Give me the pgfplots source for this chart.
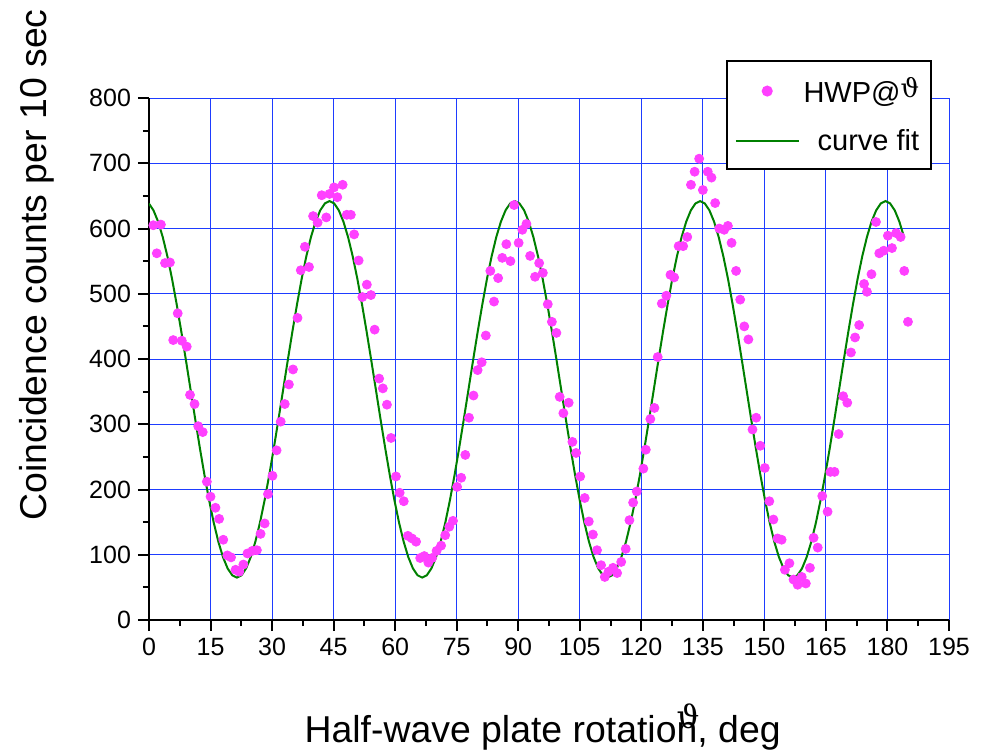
\documentclass[border=0pt]{standalone}
\usepackage{fontspec}
\setmainfont{Liberation Sans}
\newfontfamily\symfont{DejaVu Serif}
\usepackage{pgfplots}
\pgfplotsset{compat=1.18}
\definecolor{ptc}{RGB}{255,64,255}
\definecolor{fitc}{RGB}{0,128,0}
\definecolor{gridc}{RGB}{30,60,255}
\pgfplotsset{
  dotlegend/.style={legend image code/.code={\draw[mark repeat=2,mark phase=2,##1] plot coordinates {(0cm,0cm) (0.55cm,0cm) (1.1cm,0cm)};}},
  linelegend/.style={legend image code/.code={\draw[##1] (0cm,0cm) -- (1.1cm,0cm);}},
}
\begin{document}
\begin{tikzpicture}
\useasboundingbox (-74.5pt,-65pt) rectangle (419.5pt,310pt);
\begin{axis}[
  at={(0,0)}, anchor=south west,
  scale only axis, width=400pt, height=261pt,
  xmin=0, xmax=195, ymin=0, ymax=800,
  xtick={0,15,...,195}, ytick={0,100,...,800},
  minor x tick num=1, minor y tick num=1,
  axis lines*=left,
  axis line style={-, black, line width=1pt},
  tick style={black, line width=1pt},
  major tick length=5.5pt, minor tick length=3pt,
  tick align=outside,
  grid=major,
  major grid style={gridc, line width=0.5pt},
  /pgf/number format/assume math mode=true,
  ticklabel style={font=\fontsize{12.5}{15}\selectfont},
  every axis x label/.style={at={(axis description cs:0.492,-0.2356)}, anchor=base},
  every axis y label/.style={at={(axis description cs:-0.1275,0.680)}, anchor=base, rotate=90},
  label style={font=\fontsize{18.7}{22}\selectfont},
  xlabel={Half-wave plate rotatio\rlap{\raisebox{7pt}{\fontsize{16}{16}\symfont ϑ}}n, deg},
  ylabel={Coincidence counts per 10 sec},
  legend style={font=\fontsize{14.5}{17}\selectfont, at={(axis description cs:0.979,1.0728)}, anchor=north east,
    draw=black, line width=1pt, fill=white, inner xsep=4pt, inner ysep=6pt, row sep=8pt,
    nodes={inner sep=2pt}},
  legend cell align=right,
]
\addplot[only marks, mark=*, color=ptc, mark size=2.25pt, dotlegend]
coordinates {
(1.05,605) (1.9,562) (2.9,606) (3.9,547) (5.1,548) (5.9,429) (7.0,470) (8.0,428) (9.2,419) (10.0,345)
(11.1,331) (12.0,297) (13.1,288) (14.1,212) (15.0,189) (16.2,172) (17.1,155) (18.1,123) (19.1,99) (20.0,96)
(21.1,77) (22.0,74) (23.0,85) (24.0,102) (25.2,106) (26.3,107) (27.2,132) (28.2,148) (29.0,193) (30.1,221)
(31.1,260) (32.1,304) (33.1,331) (34.1,361) (35.1,384) (36.2,463) (37.0,536) (38.0,572) (39.0,541) (40.0,619)
(41.1,609) (42.1,651) (43.2,617) (44.0,653) (45.1,663) (45.9,648) (47.2,667) (48.2,621) (49.2,621) (50.0,591)
(51.1,551) (52.0,495) (53.1,514) (54.1,498) (55.0,445) (56.1,370) (57.0,355) (58.0,330) (59.0,279) (60.2,220)
(61.1,195) (62.1,182) (63.1,129) (64.1,125) (65.1,120) (66.1,95) (67.1,98) (68.1,88) (69.0,95) (70.1,106)
(71.2,114) (72.2,130) (73.2,143) (74.1,152) (75.1,204) (76.1,218) (77.1,253) (78.0,310) (79.1,344) (80.1,383)
(81.1,395) (82.1,436) (83.2,535) (84.1,488) (85.1,524) (86.1,555) (87.1,576) (88.1,550) (89.0,636) (90.1,578)
(91.0,598) (92.0,607) (92.9,558) (94.1,526) (95.1,547) (96.0,532) (97.2,484) (98.2,457) (99.3,440) (100.1,342)
(101.0,317) (102.3,333) (103.2,273) (104.1,256) (105.1,220) (106.2,187) (107.2,151) (108.2,131) (109.2,107) (110.2,84)
(111.1,66) (112.0,74) (113.1,80) (114.1,72) (115.1,89) (116.2,109) (117.1,153) (118.0,180) (118.9,197) (120.5,232)
(121.1,261) (122.2,308) (123.2,325) (124.0,403) (125.0,485) (126.1,497) (127.1,529) (128.0,525) (129.1,573) (130.2,573)
(131.2,587) (132.1,667) (133.0,687) (134.1,707) (135.0,659) (136.2,687) (137.1,678) (138.0,639) (139.0,600) (140.2,598)
(141.1,604) (142.0,578) (143.1,535) (144.1,491) (145.1,450) (146.1,430) (147.1,292) (148.0,310) (149.0,267) (150.1,233)
(151.2,182) (152.2,154) (153.2,125) (154.2,123) (155.0,77) (156.1,87) (157.1,62) (158.1,54) (159.1,66) (160.1,56)
(161.1,80) (162.0,126) (163.0,111) (164.1,190) (165.4,166) (166.1,227) (167.1,227) (168.1,285) (169.2,343) (170.2,333)
(171.1,410) (172.1,433) (173.1,452) (174.3,515) (175.0,503) (176.1,530) (177.2,610) (178.0,562) (179.1,566) (180.1,589)
(181.1,570) (182.1,593) (183.2,587) (184.1,535) (185.0,457)
};
\addlegendentry{HWP@\raisebox{2.5pt}{\fontsize{13}{13}\symfont ϑ}}
\addplot[fitc, line width=1pt, no markers, linelegend]
coordinates {
(0,638.2)
(1.09,627.88) (2.22,610.56) (3.35,586.90) (4.48,557.50) (5.61,523.08) (6.73,484.48) (7.86,442.65) (8.99,398.63) (10.12,353.5) (11.25,308.37) (12.38,264.35) (13.51,222.52) (14.64,183.92) (15.77,149.50) (16.90,120.10) (18.03,96.44) (19.16,79.12) (20.29,68.55) (21.42,65.0) (22.54,68.55) (23.67,79.12) (24.80,96.44) (25.93,120.10) (27.06,149.50) (28.19,183.92) (29.32,222.52) (30.45,264.35) (31.58,308.37) (32.71,353.5) (33.84,398.63) (34.97,442.65) (36.10,484.48) (37.22,523.08) (38.35,557.50) (39.48,586.90) (40.61,610.56) (41.74,627.88) (42.87,638.45)
(44.00,642.0) (45.13,638.45) (46.26,627.88) (47.39,610.56) (48.52,586.90) (49.65,557.50) (50.78,523.08) (51.90,484.48) (53.03,442.65) (54.16,398.63) (55.29,353.5) (56.42,308.37) (57.55,264.35) (58.68,222.52) (59.81,183.92) (60.94,149.50) (62.07,120.10) (63.20,96.44) (64.33,79.12) (65.46,68.55) (66.59,65.0) (67.71,68.55) (68.84,79.12) (69.97,96.44) (71.10,120.10) (72.23,149.50) (73.36,183.92) (74.49,222.52) (75.62,264.35) (76.75,308.37) (77.88,353.5) (79.01,398.63) (80.14,442.65) (81.27,484.48) (82.39,523.08) (83.52,557.50) (84.65,586.90) (85.78,610.56) (86.91,627.88) (88.04,638.45)
(89.17,642.0) (90.30,638.45) (91.43,627.88) (92.56,610.56) (93.69,586.90) (94.82,557.50) (95.95,523.08) (97.07,484.48) (98.20,442.65) (99.33,398.63) (100.46,353.5) (101.59,308.37) (102.72,264.35) (103.85,222.52) (104.98,183.92) (106.11,149.50) (107.24,120.10) (108.37,96.44) (109.50,79.12) (110.63,68.55) (111.76,65.0) (112.88,68.55) (114.01,79.12) (115.14,96.44) (116.27,120.10) (117.40,149.50) (118.53,183.92) (119.66,222.52) (120.79,264.35) (121.92,308.37) (123.05,353.5) (124.18,398.63) (125.31,442.65) (126.44,484.48) (127.56,523.08) (128.69,557.50) (129.82,586.90) (130.95,610.56) (132.08,627.88) (133.21,638.45)
(134.34,642.0) (135.47,638.45) (136.60,627.88) (137.73,610.56) (138.86,586.90) (139.99,557.50) (141.12,523.08) (142.24,484.48) (143.37,442.65) (144.50,398.63) (145.63,353.5) (146.76,308.37) (147.89,264.35) (149.02,222.52) (150.15,183.92) (151.28,149.50) (152.41,120.10) (153.54,96.44) (154.67,79.12) (155.80,68.55) (156.93,65.0) (158.05,68.55) (159.18,79.12) (160.31,96.44) (161.44,120.10) (162.57,149.50) (163.70,183.92) (164.83,222.52) (165.96,264.35) (167.09,308.37) (168.22,353.5) (169.35,398.63) (170.48,442.65) (171.61,484.48) (172.73,523.08) (173.86,557.50) (174.99,586.90) (176.12,610.56) (177.25,627.88) (178.38,638.45)
(179.51,642.0) (180.64,638.45) (181.77,627.88) (182.90,610.56) (184.03,586.90)
};
\addlegendentry{curve fit}
\end{axis}
\end{tikzpicture}
\end{document}
